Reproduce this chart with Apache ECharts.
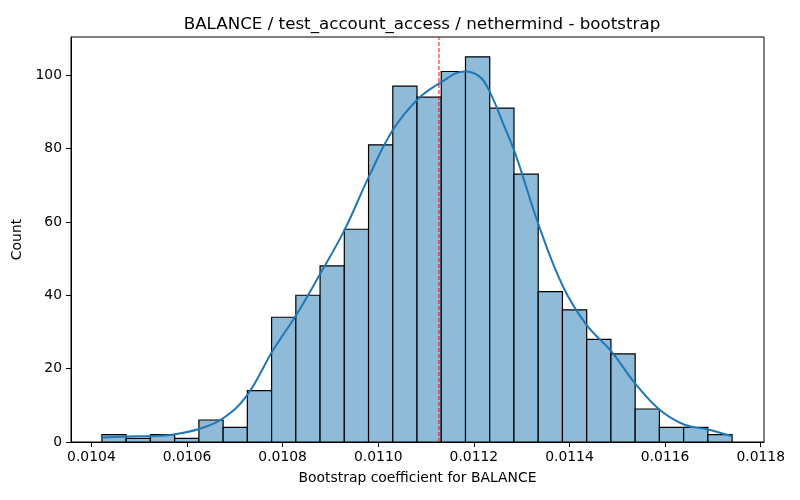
<!DOCTYPE html>
<html>
<head>
<meta charset="utf-8">
<script src="https://cdn.jsdelivr.net/npm/echarts@6/dist/echarts.min.js"></script>
<style>
  html, body { margin: 0; padding: 0; background: #fff; }
  #main { width: 800px; height: 500px; }
</style>
</head>
<body>
<div id="main"></div>
<script>
// Bords des classes de l'histogramme (26 classes)
const binEdges = [
  0.0104220, 0.0104727, 0.0105234, 0.0105741, 0.0106248, 0.0106755,
  0.0107262, 0.0107769, 0.0108276, 0.0108783, 0.0109290, 0.0109797,
  0.0110304, 0.0110811, 0.0111318, 0.0111825, 0.0112332, 0.0112839,
  0.0113346, 0.0113853, 0.0114360, 0.0114867, 0.0115374, 0.0115881,
  0.0116388, 0.0116895, 0.0117402
];
const counts = [2, 1, 2, 1, 6, 4, 14, 34, 40, 48, 58, 81, 97, 94, 101, 105, 91, 73, 41, 36, 28, 24, 9, 4, 4, 2];

// Courbe KDE
const kdeX = [
  0.0104222, 0.0104732, 0.0105255, 0.0105700, 0.0106265, 0.0106746,
  0.0107242, 0.0107798, 0.0108288, 0.0108775, 0.0109298, 0.0109821,
  0.0110308, 0.0110831, 0.0111285, 0.0111808, 0.0112120, 0.0112331,
  0.0112609, 0.0112889, 0.0113341, 0.0113864, 0.0114353, 0.0114876,
  0.0115364, 0.0115886, 0.0116409, 0.0116897, 0.0117407
];
const kdeY = [
  1.2, 1.5, 1.6, 2.0, 3.6, 6.4,
  12.5, 25.0, 34.7, 45.6, 57.9, 72.8,
  85.1, 93.5, 97.8, 101.0, 99.6, 95.5,
  86.9, 77.8, 59.7, 42.4, 32.0, 24.7,
  16.1, 8.8, 4.7, 3.4, 1.5
];

const xTicks = [0.0104, 0.0106, 0.0108, 0.0110, 0.0112, 0.0114, 0.0116, 0.0118];
const meanLine = 0.011127;

const xMin = 0.0103573;
const xMax = 0.0118069;
const yMax = 110.4;

const chart = echarts.init(document.getElementById("main"));

const histData = counts.map((c, i) => [binEdges[i], binEdges[i + 1], c]);
const kdeData = kdeX.map((x, i) => [x, kdeY[i]]);

const font = "DejaVu Sans";

const option = {
  animation: false,
  backgroundColor: "#ffffff",
  title: {
    text: "BALANCE / test_account_access / nethermind - bootstrap",
    left: 417,
    top: 11,
    textAlign: "center",
    textStyle: { fontFamily: font, fontSize: 16.7, fontWeight: "normal", color: "#000" }
  },
  grid: {
    left: 71, right: 36, top: 37, bottom: 58,
    show: true, borderColor: "#000", borderWidth: 1, backgroundColor: "transparent"
  },
  xAxis: {
    type: "value",
    min: xMin,
    max: xMax,
    name: "Bootstrap coefficient for BALANCE",
    nameLocation: "middle",
    nameGap: 29,
    nameTextStyle: { fontFamily: font, fontSize: 13.9, color: "#000" },
    splitLine: { show: false },
    axisLine: { lineStyle: { color: "#000", width: 1 } },
    axisTick: { show: true, inside: false, length: 5, customValues: xTicks, lineStyle: { color: "#000" } },
    axisLabel: {
      customValues: xTicks,
      margin: 8,
      fontFamily: font, fontSize: 13.9, color: "#000",
      formatter: (v) => v.toFixed(4)
    }
  },
  yAxis: {
    type: "value",
    min: 0,
    max: yMax,
    interval: 20,
    name: "Count",
    nameLocation: "middle",
    nameGap: 35,
    nameTextStyle: { fontFamily: font, fontSize: 13.9, color: "#000" },
    splitLine: { show: false },
    axisLine: { show: true, lineStyle: { color: "#000", width: 1 } },
    axisTick: { show: true, inside: false, length: 5, lineStyle: { color: "#000" } },
    axisLabel: {
      margin: 9,
      fontFamily: font, fontSize: 13.9, color: "#000",
      showMaxLabel: false
    }
  },
  series: [
    {
      name: "hist",
      type: "custom",
      data: histData,
      encode: { x: [0, 1], y: 2 },
      renderItem: function (params, api) {
        const p0 = api.coord([api.value(0), api.value(2)]);
        const p1 = api.coord([api.value(1), 0]);
        return {
          type: "rect",
          shape: { x: p0[0], y: p0[1], width: p1[0] - p0[0], height: p1[1] - p0[1] },
          style: { fill: "#8fbbd9", stroke: "#000", lineWidth: 1.2 }
        };
      },
      z: 2
    },
    {
      name: "kde",
      type: "line",
      data: kdeData,
      smooth: 0.4,
      showSymbol: false,
      symbol: "none",
      lineStyle: { color: "#1f77b4", width: 2 },
      z: 3
    },
    {
      // Ligne verticale rouge en pointillés
      name: "mean",
      type: "line",
      data: [[meanLine, 0], [meanLine, yMax]],
      showSymbol: false,
      symbol: "none",
      lineStyle: { color: "#ff0000", width: 1, type: [4, 2] },
      z: 4
    }
  ]
};

chart.setOption(option);
</script>
</body>
</html>
